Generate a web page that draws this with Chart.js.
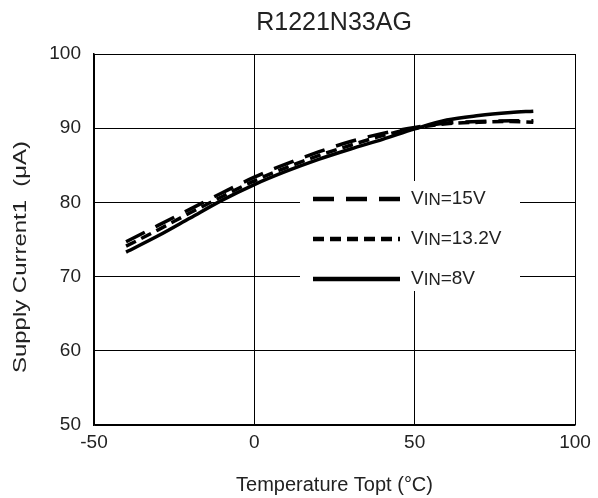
<!DOCTYPE html>
<html>
<head>
<meta charset="utf-8">
<script src="https://cdn.jsdelivr.net/npm/chart.js@4"></script>
<style>
  html, body { margin: 0; padding: 0; background: #fff; }
  #wrap { width: 598px; height: 498px; }
</style>
</head>
<body>
<div id="wrap"><canvas id="chart" width="598" height="498"></canvas></div>
<script>
const temps = [-40, -30, -20, -10, 0, 10, 20, 30, 40, 50, 60, 70, 80, 87];
const vin15 = [74.7, 76.9, 79.1, 81.3, 83.4, 85.2, 86.8, 88.2, 89.3, 90.1, 90.7, 90.9, 91.0, 91.0];
const vin132 = [74.1, 76.3, 78.6, 80.8, 82.9, 84.7, 86.3, 87.7, 89.0, 90.0, 90.6, 90.8, 90.9, 90.8];
const vin8 = [73.3, 75.5, 77.9, 80.3, 82.4, 84.2, 85.8, 87.2, 88.5, 89.9, 91.1, 91.7, 92.1, 92.3];
const seriesNames = ['15V', '13.2V', '8V'];
const fontFam = '"Liberation Sans", Arial, sans-serif';

function pts(vals) {
    return temps.map((t, i) => ({x: t, y: vals[i]}));
}

// legend box inside the plot (white background hides the grid) + titles
const boxLegend = {
    id: 'boxLegend',
    afterDatasetsDraw(chart) {
        const ctx = chart.ctx;
        ctx.save();
        ctx.fillStyle = '#fff';
        ctx.fillRect(300, 181, 220, 110);
        chart.data.datasets.forEach(function(ds, i){
            const y = 199 + i * 40;
            ctx.strokeStyle = '#000';
            ctx.lineWidth = 4.5;
            ctx.setLineDash(ds.borderDash || []);
            ctx.beginPath();
            ctx.moveTo(313, y);
            ctx.lineTo(400, y);
            ctx.stroke();
            ctx.setLineDash([]);
            ctx.fillStyle = '#222';
            ctx.textBaseline = 'middle';
            ctx.textAlign = 'left';
            let x = 411;
            ctx.font = '19px ' + fontFam;
            ctx.fillText('V', x, y);
            x += ctx.measureText('V').width;
            ctx.font = '17px ' + fontFam;
            ctx.fillText('IN', x, y + 1);
            x += ctx.measureText('IN').width;
            ctx.font = '19px ' + fontFam;
            ctx.fillText('=' + seriesNames[i], x, y);
        });
        ctx.fillStyle = '#222';
        ctx.font = '25px ' + fontFam;
        ctx.textAlign = 'center';
        ctx.textBaseline = 'middle';
        ctx.fillText('R1221N33AG', 334, 23);
        // y axis title, stretched along its length like the source
        ctx.translate(21, 373);
        ctx.rotate(-Math.PI / 2);
        ctx.scale(1.33, 1);
        ctx.textAlign = 'left';
        ctx.font = '18px ' + fontFam;
        ctx.fillText('Supply Current1  (μA)', 0, 0);
        ctx.restore();
    }
};

new Chart(document.getElementById('chart'), {
    type: 'line',
    data: {
        datasets: [
            {label: 'VIN=15V', data: pts(vin15), borderColor: '#000', borderWidth: 3.5, borderDash: [21, 12]},
            {label: 'VIN=13.2V', data: pts(vin132), borderColor: '#000', borderWidth: 3.5, borderDash: [11, 6]},
            {label: 'VIN=8V', data: pts(vin8), borderColor: '#000', borderWidth: 3.5}
        ]
    },
    options: {
        responsive: false,
        animation: false,
        layout: {padding: {top: 54, right: 23, left: 0, bottom: 0}},
        elements: {
            line: {cubicInterpolationMode: 'monotone', fill: false},
            point: {radius: 0}
        },
        plugins: {
            legend: {display: false},
            title: {display: false},
            tooltip: {enabled: false}
        },
        scales: {
            x: {
                type: 'linear',
                min: -50, max: 100,
                ticks: {stepSize: 50, color: '#222', padding: 6, font: {size: 19, family: fontFam}},
                grid: {color: '#000', lineWidth: 1, drawTicks: false},
                border: {color: '#000', width: 1.5},
                title: {display: true, text: 'Temperature Topt (°C)', color: '#222', font: {size: 20, family: fontFam}, padding: {top: 0, bottom: 1}},
                afterFit(scale) { scale.height = 73; }
            },
            y: {
                min: 50, max: 100,
                ticks: {stepSize: 10, color: '#222', padding: 13, font: {size: 19, family: fontFam}},
                grid: {color: '#000', lineWidth: 1, drawTicks: false},
                border: {color: '#000', width: 1.5},
                afterFit(scale) { scale.width = 94; }
            }
        }
    },
    plugins: [boxLegend]
});
</script>
</body>
</html>
